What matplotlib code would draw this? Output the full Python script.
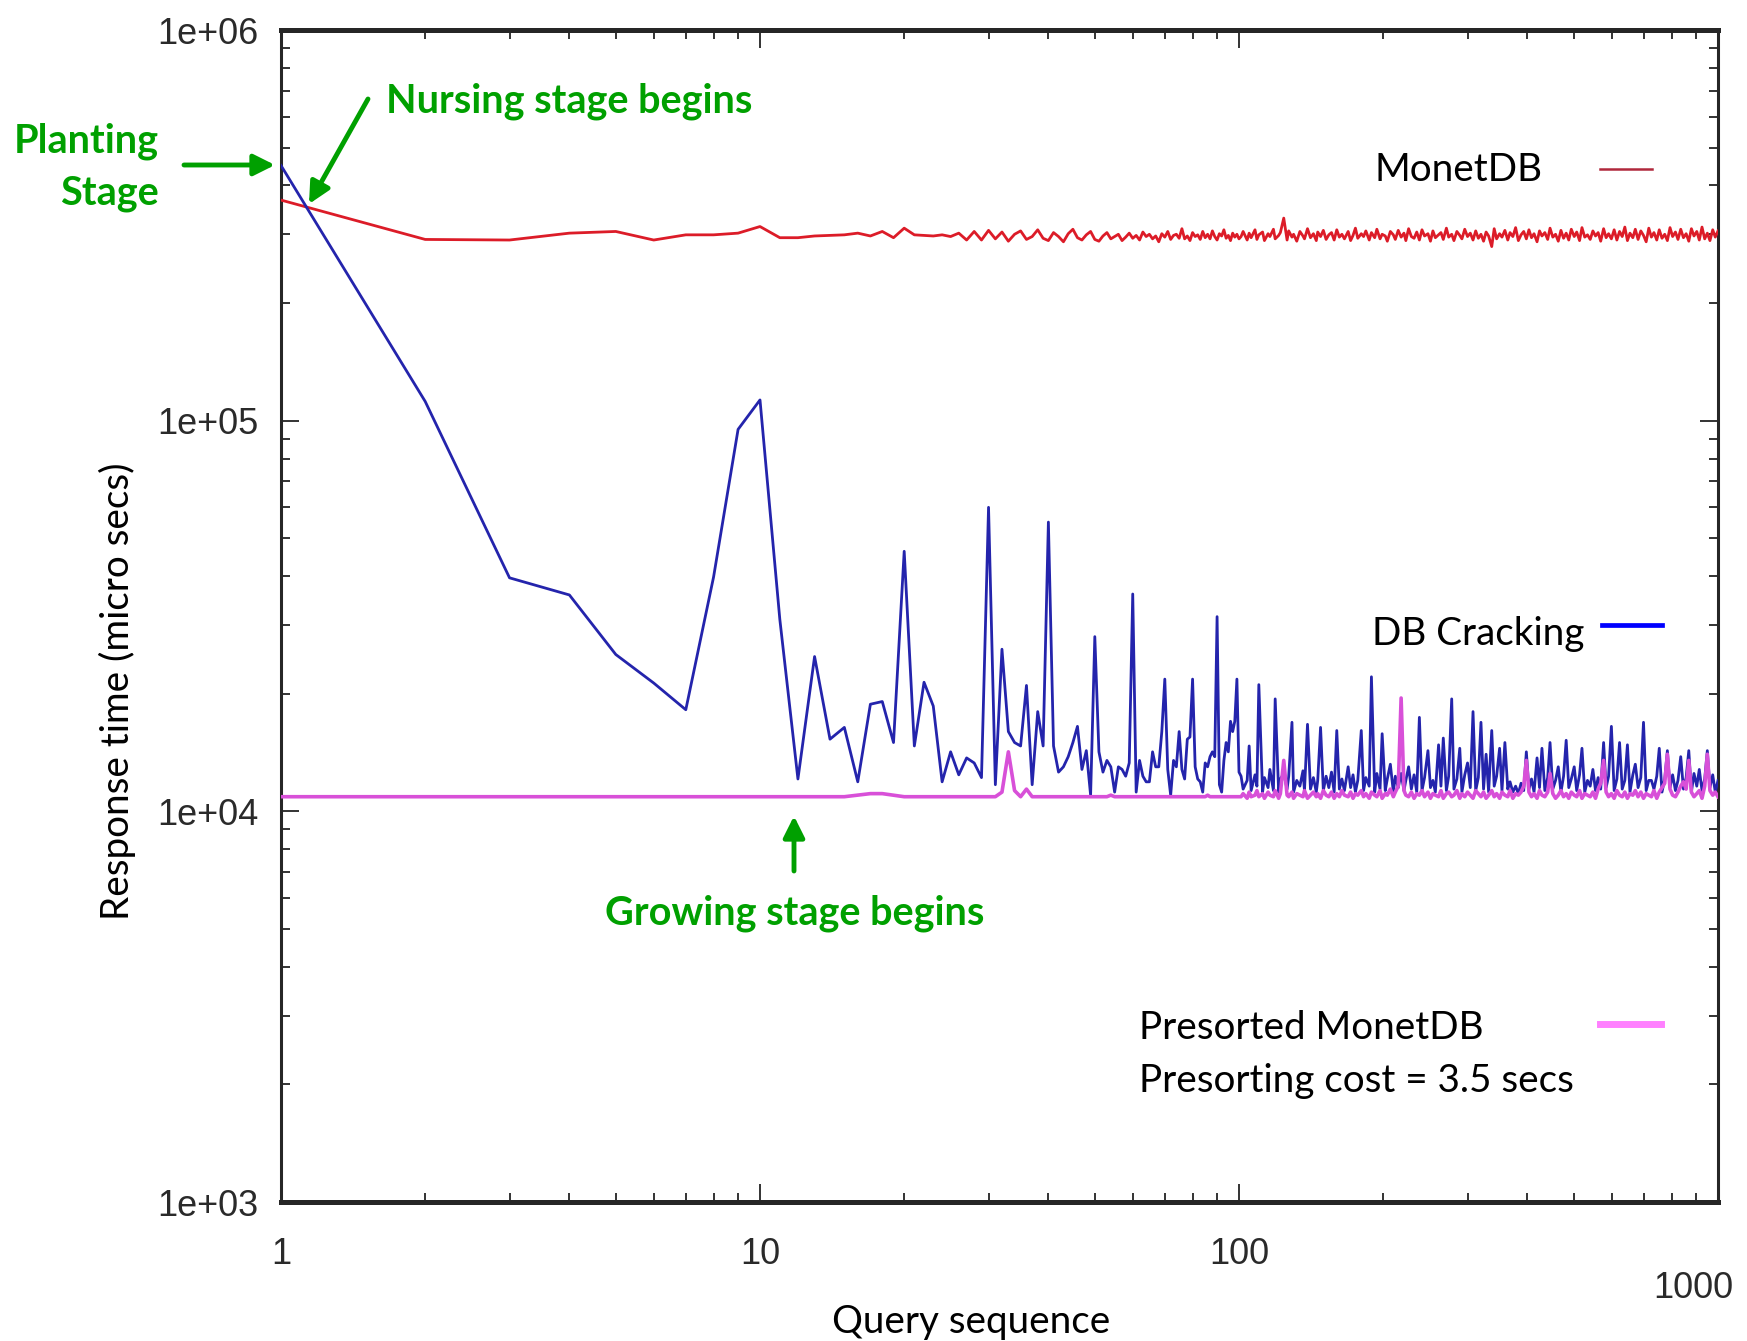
import numpy as np
import matplotlib
matplotlib.use('Agg')
import matplotlib.pyplot as plt
from matplotlib.lines import Line2D
from matplotlib.ticker import NullFormatter

# response times in thousands of micro secs
# queries 1..100, one value per query
monet_head = [367, 291, 290, 302, 305, 290, 299, 299, 302, 314,
              294, 294, 297, 298, 299, 302, 297, 305, 294, 311,
              299, 298, 297, 299, 296, 302, 290, 305, 290, 307,
              292, 304, 288, 300, 306, 291, 296, 308, 293, 289,
              303, 296, 287, 301, 309, 294, 290, 299, 305, 291,
              288, 297, 303, 292, 296, 300, 289, 295, 302, 293,
              298, 290, 304, 296, 300, 292, 297, 287, 301, 295,
              305, 291, 298, 300, 293, 310, 292, 297, 289, 303,
              296, 299, 291, 305, 294, 300, 292, 306, 296, 290,
              301, 297, 308, 293, 298, 289, 302, 295, 300, 292]

crack_head = [450, 112, 39.6, 35.8, 25.2, 21.3, 18.2, 39.8, 95, 113,
              31, 12.1, 24.9, 15.3, 16.4, 11.9, 18.8, 19.1, 15.0, 46.3,
              14.7, 21.4, 18.6, 11.9, 14.2, 12.4, 13.7, 13.3, 12.2, 60,
              11.7, 26, 16, 15, 14.7, 21, 11.7, 18, 14.7, 55,
              14.7, 12.6, 13, 13.8, 15, 16.5, 12.8, 14.3, 11, 28,
              14.2, 12.6, 13.5, 13, 11.2, 13, 12.8, 12.3, 13.3, 36,
              11.2, 13.5, 12.3, 11.9, 11.9, 14.2, 13, 13, 16, 21.8,
              12.8, 11, 13.5, 13, 16, 12.8, 12.1, 15.3, 15.5, 21.8,
              13, 12.1, 11.9, 11.2, 13.3, 13, 13.8, 14.2, 13.8, 31.5,
              11.7, 11.2, 13.5, 15, 14.2, 17, 16, 17, 21.8, 12.6]

presort_head = [10.9, 10.9, 10.9, 10.9, 10.9, 10.9, 10.9, 10.9, 10.9, 10.9,
                10.9, 10.9, 10.9, 10.9, 10.9, 11.0, 11.1, 11.1, 11.0, 10.9,
                10.9, 10.9, 10.9, 10.9, 10.9, 10.9, 10.9, 10.9, 10.9, 10.9,
                10.9, 11.2, 14.2, 11.3, 10.9, 11.4, 10.9, 10.9, 10.9, 10.9,
                10.9, 10.9, 10.9, 10.9, 10.9, 10.9, 10.9, 10.9, 10.9, 10.9,
                10.9, 10.9, 10.9, 11.0, 10.9, 10.9, 10.9, 10.9, 10.9, 10.9,
                10.9, 10.9, 10.9, 10.9, 10.9, 10.9, 10.9, 10.9, 10.9, 10.9,
                10.9, 10.9, 10.9, 10.9, 10.9, 10.9, 10.9, 10.9, 10.9, 10.9,
                10.9, 10.9, 10.9, 10.9, 10.9, 11.0, 10.9, 10.9, 10.9, 10.9,
                10.9, 10.9, 10.9, 10.9, 10.9, 10.9, 10.9, 10.9, 10.9, 10.9]

# queries 101..1000, read at 180 log-spaced query ids
tail_q = np.geomspace(101, 1000, 180).round()

monet_tail = [296, 305, 290, 302, 294, 308, 291, 299, 304, 289, 301, 296, 309, 292, 298, 303, 330, 290, 306, 295,
              300, 288, 305, 297, 292, 310, 294, 301, 289, 304, 296, 307, 291, 299, 303, 290, 308, 295, 300, 292,
              305, 289, 298, 311, 293, 301, 296, 306, 290, 303, 294, 309, 292, 300, 297, 288, 305, 299, 291, 307,
              295, 302, 289, 310, 296, 293, 304, 290, 308, 297, 301, 288, 306, 294, 299, 303, 291, 311, 295, 300,
              289, 305, 298, 292, 309, 296, 302, 290, 306, 293, 300, 288, 304, 297, 279, 310, 292, 301, 295, 307,
              290, 303, 296, 312, 289, 299, 305, 292, 308, 294, 301, 287, 306, 297, 303, 291, 311, 295, 300, 288,
              307, 293, 302, 290, 309, 296, 304, 289, 312, 295, 299, 291, 306, 297, 303, 288, 310, 294, 301, 292,
              308, 290, 305, 296, 313, 289, 302, 294, 309, 291, 306, 298, 287, 311, 295, 303, 290, 308, 293, 300,
              289, 312, 296, 304, 291, 309, 294, 301, 288, 310, 297, 305, 290, 313, 292, 302, 289, 308, 295, 306]

crack_tail = [12.3, 11.4, 12.0, 14.7, 11.3, 12.4, 11.6, 21.1, 11.2, 12.2, 11.5, 12.8, 11.3, 19.4, 11.2, 12.1, 12.5, 11.4, 12.3, 16.9,
              11.2, 12.0, 11.6, 12.7, 11.3, 16.7, 11.4, 12.2, 11.2, 12.0, 16.4, 11.3, 12.3, 11.5, 12.6, 11.2, 16.1, 11.4, 12.1, 11.3,
              13.0, 11.5, 12.4, 11.2, 12.0, 16.1, 11.3, 12.2, 11.6, 22.1, 11.2, 12.5, 11.4, 15.8, 11.3, 12.1, 13.2, 11.2, 12.3, 11.5,
              12.5, 11.3, 12.0, 13.0, 11.4, 12.4, 11.2, 17.4, 11.3, 12.2, 14.3, 11.5, 12.0, 11.2, 14.8, 11.6, 15.4, 11.3, 12.3, 19.4,
              11.4, 12.1, 14.5, 11.2, 12.4, 13.3, 11.5, 18.0, 11.3, 12.2, 16.9, 11.4, 14.0, 11.2, 16.1, 11.6, 12.3, 14.5, 11.3, 15.0,
              11.4, 11.9, 11.2, 11.6, 11.1, 11.8, 11.3, 14.2, 11.4, 12.1, 11.2, 13.7, 11.5, 14.5, 11.3, 12.2, 15.0, 11.4, 12.0, 13.0,
              11.2, 12.3, 15.2, 11.5, 12.1, 13.0, 11.3, 12.4, 14.5, 11.2, 12.0, 11.6, 12.8, 11.3, 12.2, 11.4, 15.0, 11.5, 12.3, 16.5,
              11.3, 12.1, 15.0, 11.4, 12.0, 14.8, 11.2, 12.4, 13.2, 11.5, 12.2, 16.9, 11.3, 12.0, 12.0, 11.4, 12.3, 14.5, 11.2, 12.1,
              14.3, 11.5, 12.4, 11.3, 12.0, 13.8, 11.4, 12.2, 14.3, 11.2, 12.5, 11.6, 12.8, 11.3, 12.1, 14.3, 11.5, 12.4, 11.2, 12.0]

presort_tail = [10.9, 11.1, 10.8, 11.2, 10.9, 11.0, 11.3, 10.9, 11.1, 10.8, 11.2, 11.0, 10.9, 11.3, 10.8, 11.1, 13.5, 11.0, 10.9, 11.2,
                10.8, 11.1, 11.0, 10.9, 11.3, 10.8, 11.0, 11.2, 10.9, 11.1, 10.8, 11.3, 11.0, 10.9, 11.2, 10.8, 11.1, 10.9, 11.3, 11.0,
                10.9, 11.2, 10.8, 11.1, 11.0, 11.3, 10.9, 11.1, 10.8, 11.2, 11.0, 10.9, 11.3, 10.8, 11.1, 11.0, 11.4, 10.9, 11.2, 11.6,
                19.5, 11.3, 11.0, 10.9, 11.2, 10.8, 11.1, 11.0, 11.3, 10.9, 11.2, 10.8, 11.1, 11.0, 10.9, 11.3, 10.8, 11.1, 11.2, 10.9,
                11.0, 11.3, 10.8, 11.1, 10.9, 11.2, 11.0, 10.8, 11.3, 11.1, 10.9, 11.2, 10.8, 11.0, 11.3, 10.9, 11.1, 10.8, 11.2, 11.0,
                10.9, 11.3, 10.8, 11.1, 11.0, 11.2, 11.6, 13.5, 11.2, 10.9, 11.1, 10.8, 11.3, 11.0, 10.9, 11.2, 12.5, 11.1, 10.8, 11.0,
                11.3, 10.9, 11.1, 10.8, 11.2, 11.0, 10.9, 11.3, 10.8, 11.1, 11.0, 10.9, 11.2, 10.8, 11.4, 11.8, 13.5, 11.2, 10.9, 11.1,
                10.8, 11.3, 11.0, 10.9, 11.2, 10.8, 11.1, 11.0, 11.3, 10.9, 11.2, 10.8, 11.1, 11.0, 10.9, 11.3, 10.8, 11.2, 11.5, 11.8,
                14.0, 11.4, 11.0, 10.9, 11.2, 11.6, 11.9, 11.4, 13.5, 11.2, 10.9, 11.1, 11.3, 10.8, 11.6, 14.0, 11.3, 11.0, 11.2, 10.9]

queries = np.r_[np.arange(1, 101), tail_q]
monet = np.r_[monet_head, monet_tail] * 1000
crack = np.r_[crack_head, crack_tail] * 1000
presort = np.r_[presort_head, presort_tail] * 1000

W, H = 1747, 1341
fig = plt.figure(figsize=(W / 100, H / 100), dpi=100)

# helpers: reference pixel -> figure fraction
def fx(x):
    return x / W

def fy(y):
    return 1 - y / H

ax = fig.add_axes([fx(281), fy(1202), fx(1718) - fx(281), fy(30) - fy(1202)])
ax.set_xscale('log')
ax.set_yscale('log')

ax.plot(queries, monet, color='#dc1c28', lw=2.0, zorder=3)
ax.plot(queries, crack, color='#2424ac', lw=2.0, zorder=4)
ax.plot(queries, presort, color='#d850d8', lw=2.6, zorder=5)

ax.set_xlim(1, 1000)
ax.set_ylim(1e3, 1e6)

tickfont = ['Liberation Sans', 'DejaVu Sans']
ax.set_xticks([1, 10, 100, 1000], ['1', '10', '100', ''],
              fontfamily=tickfont, fontsize=26, color='#2a2a2a')
ax.set_yticks([1e3, 1e4, 1e5, 1e6], ['1e+03', '1e+04', '1e+05', '1e+06'],
              fontfamily=tickfont, fontsize=26, color='#2a2a2a')
ax.xaxis.set_minor_formatter(NullFormatter())
ax.yaxis.set_minor_formatter(NullFormatter())
ax.tick_params(which='both', direction='in', top=True, right=True,
               width=1.4, color='#333333')
ax.tick_params(which='major', length=13)
ax.tick_params(which='minor', length=6.5)
ax.tick_params(axis='x', which='major', pad=25)
ax.tick_params(axis='y', which='major', pad=16)

# gnuplot put the last x label lower
ax.annotate('1000', xy=(1000, 0), xycoords=('data', 'axes fraction'),
            xytext=(-18, -62), textcoords='offset points', ha='center', va='center',
            fontfamily=tickfont, fontsize=26, color='#2a2a2a')

for s in ['top', 'bottom']:
    ax.spines[s].set_linewidth(3.6)
for s in ['left', 'right']:
    ax.spines[s].set_linewidth(2.2)
for s in ax.spines.values():
    s.set_color('#262626')

txt = dict(fontfamily='Lato', fontsize=27.8, color='black')
fig.text(fx(971), fy(1333), 'Query sequence', ha='center', va='baseline', **txt)
fig.text(fx(117), fy(691), 'Response time (micro secs)', rotation=90,
         ha='center', va='center', **txt)

# legend drawn like the gnuplot key
fig.text(fx(1374), fy(181), 'MonetDB', ha='left', va='baseline', **txt)
fig.text(fx(1372), fy(645), 'DB Cracking', ha='left', va='baseline', **txt)
fig.text(fx(1139), fy(1039), 'Presorted MonetDB', ha='left', va='baseline', **txt)
fig.text(fx(1139), fy(1092), 'Presorting cost = 3.5 secs', ha='left', va='baseline', **txt)
fig.add_artist(Line2D([fx(1600), fx(1652)], [fy(169), fy(169)], color='#b0283c', lw=1.8))
fig.add_artist(Line2D([fx(1602), fx(1662)], [fy(625), fy(625)], color='#0000ff', lw=3.4))
fig.add_artist(Line2D([fx(1600), fx(1661)], [fy(1024), fy(1024)], color='#ff80ff', lw=5))

green = '#00a000'
gtxt = dict(fontfamily='Lato', fontweight='bold', fontsize=28.5, color=green)
fig.text(fx(159), fy(152), 'Planting', ha='right', va='baseline', **gtxt)
fig.text(fx(159), fy(205), 'Stage', ha='right', va='baseline', **gtxt)
fig.text(fx(386), fy(112), 'Nursing stage begins', ha='left', va='baseline', **gtxt)
fig.text(fx(795), fy(924), 'Growing stage begins', ha='center', va='baseline', **gtxt)

arrow = dict(arrowstyle='-|>,head_length=0.8,head_width=0.4', color=green,
             lw=3.5, mutation_scale=16, shrinkA=0, shrinkB=0)
ax.annotate('', xy=(fx(275), fy(165)), xycoords='figure fraction',
            xytext=(fx(184), fy(165)), textcoords='figure fraction', arrowprops=arrow)
ax.annotate('', xy=(fx(309), fy(204)), xycoords='figure fraction',
            xytext=(fx(368), fy(99)), textcoords='figure fraction', arrowprops=arrow)
ax.annotate('', xy=(fx(794), fy(816)), xycoords='figure fraction',
            xytext=(fx(794), fy(871)), textcoords='figure fraction', arrowprops=arrow)

fig.savefig('out.png', dpi=100)
